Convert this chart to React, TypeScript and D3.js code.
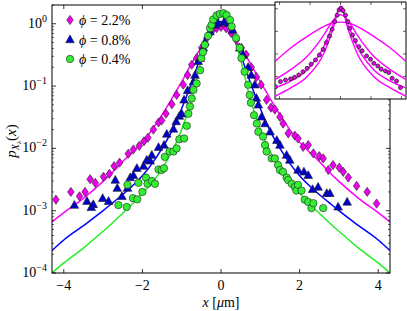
import React from "react";
import * as d3 from "d3";

// ---------- data ----------
const fitX = [-4.3, -4, -3.5, -3, -2.75, -2.5, -2.25, -2, -1.75, -1.5, -1.25, -1, -0.75, -0.5, -0.25, 0,
  0.25, 0.5, 0.75, 1, 1.25, 1.5, 1.75, 2, 2.25, 2.5, 2.75, 3, 3.5, 4, 4.3];
const fitMagenta = [0.00066, 0.00093, 0.00158, 0.00295, 0.00417, 0.00617, 0.00871, 0.0126, 0.02, 0.0347, 0.0631, 0.1175, 0.229, 0.417, 0.676, 0.9,
  0.676, 0.417, 0.229, 0.1175, 0.0631, 0.0347, 0.02, 0.0126, 0.00871, 0.00617, 0.00417, 0.00295, 0.00158, 0.00093, 0.00066];
const fitBlue = [0.000229, 0.000339, 0.000575, 0.001, 0.00135, 0.00182, 0.00251, 0.00363, 0.00575, 0.01, 0.0191, 0.0437, 0.112, 0.316, 0.741, 1.084,
  0.741, 0.316, 0.112, 0.0437, 0.0191, 0.01, 0.00575, 0.00363, 0.00251, 0.00182, 0.00135, 0.001, 0.000575, 0.000339, 0.000229];
const fitGreen = [0.0001, 0.000145, 0.000251, 0.000468, 0.000646, 0.000912, 0.00129, 0.00191, 0.00282, 0.00468, 0.00891, 0.02, 0.0603, 0.263, 0.794, 1.318,
  0.794, 0.263, 0.0603, 0.02, 0.00891, 0.00468, 0.00282, 0.00191, 0.00129, 0.000912, 0.000646, 0.000468, 0.000251, 0.000145, 0.0001];

const magX = [-4.2, -3.82, -3.6, -3.46, -3.33, -3.2, -2.99, -2.84, -2.72, -2.58, -2.36, -2.23, -2.08, -1.96, -1.86, -1.72, -1.59, -1.51, -1.4, -1.25, -1.13,
  -0.96, -0.85, -0.745, -0.62, -0.49, -0.36, -0.24, -0.11, 0, 0.13, 0.26, 0.39, 0.52, 0.64, 0.77, 0.9, 1.02, 1.16, 1.27, 1.37, 1.5, 1.58, 1.71,
  1.88, 1.96, 2.09, 2.22, 2.35, 2.5, 2.6, 2.73, 2.85, 3.01, 3.11, 3.24, 3.45, 3.72, 3.96];
const magY = [0.0015, 0.002, 0.0017, 0.002, 0.0032, 0.0028, 0.0035, 0.0039, 0.0052, 0.0059, 0.0082, 0.0096, 0.011, 0.013, 0.0148, 0.02, 0.026, 0.028, 0.036, 0.051, 0.072,
  0.105, 0.15, 0.22, 0.28, 0.41, 0.59, 0.75, 0.85, 0.89, 0.85, 0.71, 0.55, 0.41, 0.32, 0.2, 0.14, 0.105, 0.06, 0.045, 0.042, 0.032, 0.025, 0.0174,
  0.016, 0.0144, 0.0106, 0.0113, 0.0083, 0.0075, 0.0069, 0.0045, 0.0054, 0.0049, 0.0042, 0.0034, 0.0025, 0.002, 0.0013];

const bluX = [-3.73, -3.41, -3.3, -3.25, -3.01, -2.86, -2.69, -2.64, -2.52, -2.38, -2.31, -2.23, -2.14, -1.97, -1.89, -1.8, -1.76, -1.59, -1.45, -1.38, -1.21, -1.14,
  -1.06, -1.0, -0.94, -0.85, -0.7, -0.66, -0.58, -0.53, -0.45, -0.41, -0.28, -0.15, -0.07, 0.08, 0.19, 0.3, 0.475, 0.56, 0.69, 0.77, 0.86, 0.9, 0.95,
  1.03, 1.12, 1.25, 1.42, 1.5, 1.67, 1.75, 1.96, 2.11, 2.22, 2.33, 2.47, 2.69, 2.77, 2.98, 3.21];
const bluY = [0.00123, 0.00142, 0.00113, 0.00126, 0.00158, 0.00142, 0.0031, 0.0023, 0.0017, 0.0023, 0.0034, 0.0037, 0.0048, 0.0052, 0.0065, 0.0063, 0.0078, 0.0104, 0.0113, 0.017, 0.0205, 0.027,
  0.033, 0.036, 0.06, 0.085, 0.117, 0.15, 0.25, 0.28, 0.41, 0.51, 0.75, 0.95, 1.02, 1.07, 1.02, 0.79, 0.41, 0.32, 0.2, 0.15, 0.105, 0.064, 0.05,
  0.032, 0.025, 0.0185, 0.0135, 0.0113, 0.0078, 0.0065, 0.0045, 0.0042, 0.0037, 0.0022, 0.0024, 0.0019, 0.0019, 0.00115, 0.00138];

const grnX = [-2.61, -2.4, -2.38, -2.24, -2.13, -2.1, -2.0, -1.91, -1.87, -1.76, -1.68, -1.59, -1.51, -1.45, -1.43, -1.31, -1.21, -1.13, -1.06, -0.94, -0.87,
  -0.83, -0.79, -0.745, -0.7, -0.62, -0.53, -0.5, -0.46, -0.41, -0.33, -0.28, -0.24, -0.2, -0.11, -0.03, 0.06, 0.14, 0.23, 0.27, 0.38, 0.475, 0.52,
  0.6, 0.69, 0.73, 0.76, 0.84, 0.91, 0.95, 1.07, 1.12, 1.16, 1.29, 1.37, 1.45, 1.5, 1.58, 1.67, 1.71, 1.8, 1.88, 1.92, 1.96, 2.05, 2.13, 2.22, 2.3, 2.35, 2.6];
const grnY = [0.00123, 0.00115, 0.0026, 0.00159, 0.00152, 0.0028, 0.002, 0.0034, 0.0027, 0.003, 0.0027, 0.0046, 0.0045, 0.0048, 0.0073, 0.0089, 0.0089, 0.01, 0.014, 0.0144, 0.023,
  0.036, 0.047, 0.063, 0.087, 0.11, 0.18, 0.28, 0.35, 0.46, 0.64, 0.85, 0.96, 1.17, 1.36, 1.44, 1.48, 1.38, 1.15, 0.9, 0.59, 0.41, 0.28,
  0.17, 0.105, 0.072, 0.054, 0.034, 0.025, 0.0185, 0.0155, 0.0113, 0.0089, 0.0069, 0.0069, 0.0054, 0.0045, 0.0042, 0.0034, 0.0031, 0.0027, 0.0024, 0.0021, 0.0026, 0.0021, 0.0015, 0.00138, 0.0011, 0.00132, 0.0011];

const legendLabels = ["2.2%", "0.8%", "0.4%"];
const xTicks = [-4, -2, 0, 2, 4];
const yTickExps = [0, -1, -2, -3, -4];

// inset
const insetDotX = [-4.26, -3.94, -3.61, -3.28, -3.02, -2.74, -2.46, -2.19, -1.93, -1.64, -1.38, -1.14, -0.92, -0.72, -0.55, -0.37, -0.22, -0.09, 0.04,
  0.17, 0.33, 0.48, 0.61, 0.79, 0.98, 1.2, 1.42, 1.71, 1.97, 2.19, 2.45, 2.67, 2.95, 3.17, 3.39, 3.68, 3.94];
const insetDotY = [0.00035, 0.00059, 0.00069, 0.00078, 0.00091, 0.00117, 0.00162, 0.0023, 0.0035, 0.0054, 0.0089, 0.0158, 0.032, 0.062, 0.123, 0.27, 0.52, 0.89, 1.05,
  0.83, 0.52, 0.27, 0.135, 0.069, 0.039, 0.021, 0.0138, 0.0081, 0.0058, 0.0038, 0.0029, 0.0021, 0.00174, 0.00148, 0.00083, 0.00063, 0.00032];
const insetFitX = [-4.3, -3.27, -2.18, -1.08, -0.54, 0, 0.54, 1.08, 2.18, 3.27, 4.3];
const insetFitA = [0.0046, 0.0182, 0.06, 0.166, 0.234, 0.257, 0.234, 0.166, 0.06, 0.0182, 0.0046];
const insetFitB = [0.00072, 0.002, 0.0078, 0.071, 0.275, 0.55, 0.275, 0.071, 0.0078, 0.002, 0.00072];
const insetFitC = [0.00031, 0.00062, 0.002, 0.022, 0.166, 1.17, 0.166, 0.022, 0.002, 0.00062, 0.00031];
const insetFitD = [0.000132, 0.00031, 0.001, 0.011, 0.1, 1.29, 0.1, 0.011, 0.001, 0.00031, 0.000132];

// ---------- styles ----------
const FONT = "'Liberation Serif', 'DejaVu Serif', serif";
const C_MAG = "#ff00ff";
const C_BLU = "#0000ff";
const C_GRN = "#22ee22";
const F_MAG = "#ee00ee";
const F_BLU = "#0000cc";
const F_GRN = "#33ee33";

const L = 52, R = 390, T = 5, B = 273;

function Diamond({ cx, cy, fill }: { cx: number; cy: number; fill: string }) {
  return <path d={`M${cx},${cy - 4.6}L${cx + 3.3},${cy}L${cx},${cy + 4.6}L${cx - 3.3},${cy}Z`} fill={fill} stroke="#222" strokeWidth={0.6} />;
}
function Tri({ cx, cy, fill }: { cx: number; cy: number; fill: string }) {
  return <path d={`M${cx},${cy - 4.6}L${cx + 4.3},${cy + 3.2}L${cx - 4.3},${cy + 3.2}Z`} fill={fill} stroke="#222" strokeWidth={0.6} />;
}
function Circ({ cx, cy, fill }: { cx: number; cy: number; fill: string }) {
  return <circle cx={cx} cy={cy} r={3.7} fill={fill} stroke="#222" strokeWidth={0.6} />;
}

export default function App() {
  const x = d3.scaleLinear().domain([-4.3, 4.3]).range([L, R]);
  const y = d3.scaleLog().domain([1e-4, 2]).range([B, T]);
  const line = d3.line<[number, number]>().x(d => x(d[0])).y(d => y(d[1])).curve(d3.curveMonotoneX);
  const pairs = (xs: number[], ys: number[]) => xs.map((v, i) => [v, ys[i]] as [number, number]);

  const minor: number[] = [];
  for (let e = -4; e <= 0; e++) for (let k = 2; k <= 9; k++) { const v = k * Math.pow(10, e); if (v <= 2) minor.push(v); }

  // inset
  const IL = 275, IR = 406, IT = 2, IB = 99;
  const ix = d3.scaleLinear().domain([-4.3, 4.3]).range([IL, IR]);
  const iy = d3.scaleLog().domain([1e-4, 2]).range([IB, IT]);
  const iline = d3.line<[number, number]>().x(d => ix(d[0])).y(d => iy(d[1])).curve(d3.curveMonotoneX);

  return (
    <svg width={407} height={311} style={{ position: "absolute", left: 0, top: 0, background: "#fff" }} fontFamily={FONT}>
      <defs>
        <clipPath id="plotclip"><rect x={L} y={T} width={R - L} height={B - T} /></clipPath>
        <clipPath id="insetclip"><rect x={IL} y={IT} width={IR - IL} height={IB - IT} /></clipPath>
      </defs>
      <rect x={0} y={0} width={407} height={311} fill="#fff" />
      <g clipPath="url(#plotclip)">
        <path d={line(pairs(fitX, fitMagenta)) || ""} fill="none" stroke={C_MAG} strokeWidth={1.5} />
        <path d={line(pairs(fitX, fitBlue)) || ""} fill="none" stroke={C_BLU} strokeWidth={1.5} />
        <path d={line(pairs(fitX, fitGreen)) || ""} fill="none" stroke={C_GRN} strokeWidth={1.5} />
        {magX.map((v, i) => <Diamond key={"m" + i} cx={x(v)} cy={y(magY[i])} fill={F_MAG} />)}
        {bluX.map((v, i) => <Tri key={"b" + i} cx={x(v)} cy={y(bluY[i])} fill={F_BLU} />)}
        {grnX.map((v, i) => <Circ key={"g" + i} cx={x(v)} cy={y(grnY[i])} fill={F_GRN} />)}
      </g>
      {/* frame */}
      <rect x={L} y={T} width={R - L} height={B - T} fill="none" stroke="#000" strokeWidth={1} />
      {/* x ticks */}
      {xTicks.map(t => (
        <g key={"xt" + t}>
          <line x1={x(t)} x2={x(t)} y1={B} y2={B - 4} stroke="#000" strokeWidth={0.8} />
          <line x1={x(t)} x2={x(t)} y1={T} y2={T + 4} stroke="#000" strokeWidth={0.8} />
          <text x={x(t)} y={290} textAnchor="middle" fontSize={14}>{t < 0 ? "\u2212" + Math.abs(t) : String(t)}</text>
        </g>
      ))}
      {/* y ticks */}
      {yTickExps.map(e => (
        <g key={"yt" + e}>
          <line x1={L} x2={L + 4} y1={y(Math.pow(10, e))} y2={y(Math.pow(10, e))} stroke="#000" strokeWidth={0.8} />
          <line x1={R} x2={R - 4} y1={y(Math.pow(10, e))} y2={y(Math.pow(10, e))} stroke="#000" strokeWidth={0.8} />
          <text x={47} y={y(Math.pow(10, e)) + 4} textAnchor="end" fontSize={14}>
            10<tspan dy={-6} fontSize={10}>{e < 0 ? "\u2212" + Math.abs(e) : String(e)}</tspan>
          </text>
        </g>
      ))}
      {minor.map((v, i) => (
        <g key={"mn" + i}>
          <line x1={L} x2={L + 2} y1={y(v)} y2={y(v)} stroke="#000" strokeWidth={0.6} />
          <line x1={R} x2={R - 2} y1={y(v)} y2={y(v)} stroke="#000" strokeWidth={0.6} />
        </g>
      ))}
      {/* axis labels */}
      <text x={221} y={307} textAnchor="middle" fontSize={14}>
        <tspan fontStyle="italic">x</tspan> [<tspan fontStyle="italic">μ</tspan>m]
      </text>
      <text transform="translate(16,141) rotate(-90)" textAnchor="middle" fontSize={15}>
        <tspan fontStyle="italic">p</tspan>
        <tspan fontStyle="italic" fontSize={10} dy={3}>X</tspan>
        <tspan fontStyle="italic" fontSize={7} dy={2}>λ</tspan>
        <tspan dy={-5}>(</tspan><tspan fontStyle="italic">x</tspan>)
      </text>
      {/* legend */}
      <Diamond cx={70} cy={20} fill={F_MAG} />
      <Tri cx={70} cy={39.5} fill={F_BLU} />
      <Circ cx={70} cy={59} fill={F_GRN} />
      {legendLabels.map((lab, i) => (
        <text key={"lg" + i} x={79} y={25 + i * 19.5} fontSize={14}>
          <tspan fontStyle="italic">ϕ</tspan> = {lab}
        </text>
      ))}
      {/* inset */}
      <rect x={IL} y={IT} width={IR - IL} height={IB - IT} fill="#fff" stroke="#000" strokeWidth={1} />
      <g clipPath="url(#insetclip)">
        {[insetFitA, insetFitB, insetFitC, insetFitD].map((arr, k) => (
          <path key={"if" + k} d={iline(pairs(insetFitX, arr)) || ""} fill="none" stroke={C_MAG} strokeWidth={1.4} />
        ))}
        {insetDotX.map((v, i) => (
          <circle key={"id" + i} cx={ix(v)} cy={iy(insetDotY[i])} r={2} fill={F_MAG} stroke="#222" strokeWidth={0.8} />
        ))}
      </g>
      {xTicks.map(t => (
        <g key={"ixt" + t}>
          <line x1={ix(t)} x2={ix(t)} y1={IB} y2={IB - 3} stroke="#000" strokeWidth={0.6} />
          <line x1={ix(t)} x2={ix(t)} y1={IT} y2={IT + 3} stroke="#000" strokeWidth={0.6} />
        </g>
      ))}
      {[-3, -2, -1, 0].map(e => (
        <g key={"iyt" + e}>
          <line x1={IL} x2={IL + 3} y1={iy(Math.pow(10, e))} y2={iy(Math.pow(10, e))} stroke="#000" strokeWidth={0.6} />
          <line x1={IR} x2={IR - 3} y1={iy(Math.pow(10, e))} y2={iy(Math.pow(10, e))} stroke="#000" strokeWidth={0.6} />
        </g>
      ))}
    </svg>
  );
}
